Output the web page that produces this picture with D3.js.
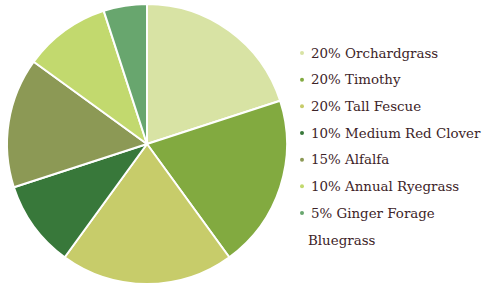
<!DOCTYPE html>
<html>
<head>
<meta charset="utf-8">
<script src="https://cdn.jsdelivr.net/npm/d3@7"></script>
<style>
body { margin: 0; background: #fff; }
.legend text { font-family: "DejaVu Serif", serif; font-size: 13.4px; fill: #3d2428; }
</style>
</head>
<body>
<div class="chart"></div>
<script>
const labels = ["Orchardgrass", "Timothy", "Tall Fescue", "Medium Red Clover", "Alfalfa", "Annual Ryegrass", "Ginger Forage Bluegrass"];
const shares = [20, 20, 20, 10, 15, 10, 5];
const colors = ["#d8e3a4", "#82aa40", "#c7cc6a", "#38783a", "#8c9955", "#c2d96e", "#68a66e"];

const width = 486, height = 283;
const cx = 147, cy = 144, radius = 140;

const data = labels.map((d, i) => ({label: d, value: shares[i], color: colors[i]}));

const svg = d3.select(".chart").append("svg")
.attr("width", width)
.attr("height", height);

const pie = d3.pie()
.sort(null)
.value(d => d.value);

const arc = d3.arc()
.innerRadius(0)
.outerRadius(radius);

svg.append("g")
.attr("transform", "translate(" + cx + "," + cy + ")")
.selectAll("path")
.data(pie(data))
.enter()
.append("path")
.attr("d", arc)
.attr("fill", d => d.data.color)
.attr("stroke", "#fff")
.attr("stroke-width", 2)
.attr("stroke-linejoin", "round");

// legend
const y = d3.scalePoint()
.domain(labels)
.range([53, 213]);

const legend = svg.append("g").attr("class", "legend");

const rows = legend.selectAll("g")
.data(data)
.enter()
.append("g")
.attr("transform", d => "translate(302," + y(d.label) + ")");

rows.append("circle")
.attr("r", 2)
.attr("fill", d => d.color);

rows.append("text")
.attr("x", 9)
.attr("dy", "0.35em")
.text(d => {
    let t = d.value + "% " + d.label;
    return d.label == "Ginger Forage Bluegrass" ? d.value + "% Ginger Forage" : t;
});

rows.filter(d => d.label == "Ginger Forage Bluegrass")
.append("text")
.attr("x", 6)
.attr("y", 27)
.attr("dy", "0.35em")
.text("Bluegrass");
</script>
</body>
</html>
